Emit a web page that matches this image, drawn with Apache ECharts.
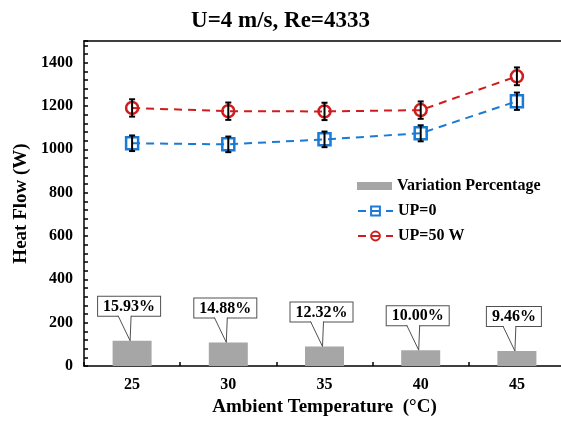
<!DOCTYPE html>
<html>
<head>
<meta charset="utf-8">
<script src="https://cdn.jsdelivr.net/npm/echarts@6/dist/echarts.min.js"></script>
<style>
  html, body { margin: 0; padding: 0; background: #fff; }
  #chart { width: 561px; height: 425px; }
</style>
</head>
<body>
<div id="chart"></div>
<script>
// Ambient temperature categories (°C)
const temperatures = [25, 30, 35, 40, 45];
// Heat flow (W) for each configuration
const heatFlowUP0 = [1028, 1023, 1046, 1074, 1222];
const heatFlowUP50 = [1191, 1176, 1175, 1181, 1337];
// Error bar half-widths (W)
const errUP0 = [36, 36, 36, 37, 40];
const errUP50 = [40, 40, 40, 40, 41];
// Relative increase of heat flow (%)
const variationPct = [15.93, 14.88, 12.32, 10.00, 9.46];
// Labelled y ticks
const yTickLabels = [0, 200, 400, 600, 800, 1000, 1200, 1400];

const SERIF = '"Liberation Serif", "Times New Roman", serif';
const BLUE = '#1a7ad4';
const RED = '#d01c1c';
const GRAY = '#a6a6a6';
const BOX = '#505050';

const chart = echarts.init(document.getElementById('chart'), null, { renderer: 'canvas' });

function errorBarItem(params, api) {
  const x = api.value(0);
  const lo = api.coord([x, api.value(1)]);
  const hi = api.coord([x, api.value(2)]);
  const cap = 3;
  const st = { stroke: '#000', lineWidth: 2 };
  return {
    type: 'group',
    children: [
      { type: 'line', shape: { x1: hi[0], y1: hi[1], x2: lo[0], y2: lo[1] }, style: st },
      { type: 'line', shape: { x1: hi[0] - cap, y1: hi[1], x2: hi[0] + cap, y2: hi[1] }, style: st },
      { type: 'line', shape: { x1: lo[0] - cap, y1: lo[1], x2: lo[0] + cap, y2: lo[1] }, style: st }
    ]
  };
}

function calloutItem(params, api) {
  const pct = api.value(1);
  const p = api.coord([api.value(0), pct]);
  const tipX = p[0] - 2;
  const tipY = p[1];
  const boxBottom = tipY - 25;
  const cx = p[0] - 3;
  const text = pct.toFixed(2) + '%';
  return {
    type: 'group',
    children: [
      {
        type: 'text', x: cx, y: boxBottom,
        style: {
          text: text, font: 'bold 16px ' + SERIF, fill: '#000',
          align: 'center', verticalAlign: 'bottom',
          backgroundColor: '#fff', borderColor: BOX, borderWidth: 1,
          padding: [2, 5, 1, 5]
        }
      },
      {
        type: 'polygon',
        shape: { points: [[tipX - 12, boxBottom - 1], [tipX + 1, boxBottom - 1], [tipX, tipY]] },
        style: { fill: '#fff' }
      },
      {
        type: 'polyline',
        shape: { points: [[tipX - 12, boxBottom], [tipX, tipY], [tipX + 1, boxBottom]] },
        style: { stroke: BOX, lineWidth: 1, fill: null }
      }
    ]
  };
}

const textBase = { fontFamily: SERIF, fontWeight: 'bold', color: '#000' };
const axisLineStyle = { color: '#000', width: 1.5 };

const option = {
  backgroundColor: '#fff',
  animation: false,
  title: {
    text: 'U=4 m/s, Re=4333',
    left: 'center',
    top: 5,
    textStyle: Object.assign({}, textBase, { fontSize: 23 })
  },
  legend: [
    {
      data: ['Variation Percentage'],
      left: 352, top: 173,
      itemWidth: 35, itemHeight: 8,
      icon: 'rect',
      textStyle: Object.assign({}, textBase, { fontSize: 16, lineHeight: 16 })
    },
    {
      data: ['UP=0', 'UP=50 W'],
      orient: 'vertical',
      left: 352, top: 198,
      itemWidth: 35, itemHeight: 11, itemGap: 9,
      textStyle: Object.assign({}, textBase, { fontSize: 16, lineHeight: 16 })
    }
  ],
  grid: {
    left: 84, top: 41, width: 481, height: 325,
    show: false,
    containLabel: false, outerBoundsMode: 'none'
  },
  xAxis: [
    {
      type: 'value',
      min: 22.5, max: 47.5, interval: 2.5,
      name: 'Ambient Temperature  (°C)',
      nameLocation: 'middle',
      nameGap: 32,
      nameTextStyle: Object.assign({}, textBase, { fontSize: 19 }),
      axisLine: { show: true, lineStyle: axisLineStyle },
      axisTick: { show: true, inside: true, length: 4, lineStyle: axisLineStyle },
      axisLabel: Object.assign({}, textBase, {
        fontSize: 16, margin: 11,
        formatter: v => (temperatures.indexOf(v) >= 0 ? String(v) : '')
      }),
      splitLine: { show: false }
    },
    {
      // frame line along the top of the plot
      type: 'value',
      position: 'top',
      min: 22.5, max: 47.5, interval: 2.5,
      axisLine: { show: true, onZero: false, lineStyle: axisLineStyle },
      axisTick: { show: false },
      axisLabel: { show: false },
      splitLine: { show: false }
    }
  ],
  yAxis: [
    {
      type: 'value',
      min: 0, max: 1500, interval: 40,
      name: 'Heat Flow (W)',
      nameLocation: 'middle',
      nameGap: 52,
      nameRotate: 90,
      nameTextStyle: Object.assign({}, textBase, { fontSize: 19, padding: [0, 0, 0, 0] }),
      axisLine: { show: true, lineStyle: axisLineStyle },
      axisTick: { show: true, inside: true, length: 4, lineStyle: axisLineStyle },
      axisLabel: Object.assign({}, textBase, {
        fontSize: 16, margin: 11,
        formatter: v => (yTickLabels.indexOf(v) >= 0 ? String(v) : '')
      }),
      splitLine: { show: false }
    },
    {
      type: 'value',
      min: 0, max: 205,
      show: false,
      splitLine: { show: false }
    }
  ],
  series: [
    {
      name: 'Variation Percentage',
      type: 'bar',
      yAxisIndex: 1,
      barWidth: 39,
      itemStyle: { color: GRAY },
      data: temperatures.map((t, i) => [t, variationPct[i]]),
      z: 1
    },
    {
      name: 'UP=0',
      type: 'line',
      symbol: 'rect',
      symbolSize: 12,
      itemStyle: { color: 'rgba(255,255,255,0)', borderColor: BLUE, borderWidth: 2.5 },
      lineStyle: { color: BLUE, width: 2, type: [8, 6] },
      data: temperatures.map((t, i) => [t, heatFlowUP0[i]]),
      z: 3
    },
    {
      name: 'UP=50 W',
      type: 'line',
      symbol: 'circle',
      symbolSize: 12,
      itemStyle: { color: 'rgba(255,255,255,0)', borderColor: RED, borderWidth: 2.5 },
      lineStyle: { color: RED, width: 2, type: [8, 6] },
      data: temperatures.map((t, i) => [t, heatFlowUP50[i]]),
      z: 3
    },
    {
      name: 'err-up0',
      type: 'custom',
      renderItem: errorBarItem,
      encode: { x: 0, y: [1, 2] },
      data: temperatures.map((t, i) => [t, heatFlowUP0[i] - errUP0[i], heatFlowUP0[i] + errUP0[i]]),
      z: 4, silent: true
    },
    {
      name: 'err-up50',
      type: 'custom',
      renderItem: errorBarItem,
      encode: { x: 0, y: [1, 2] },
      data: temperatures.map((t, i) => [t, heatFlowUP50[i] - errUP50[i], heatFlowUP50[i] + errUP50[i]]),
      z: 4, silent: true
    },
    {
      name: 'pct-labels',
      type: 'custom',
      yAxisIndex: 1,
      renderItem: calloutItem,
      encode: { x: 0, y: 1 },
      data: temperatures.map((t, i) => [t, variationPct[i]]),
      z: 5, silent: true
    }
  ]
};

chart.setOption(option);
</script>
</body>
</html>
